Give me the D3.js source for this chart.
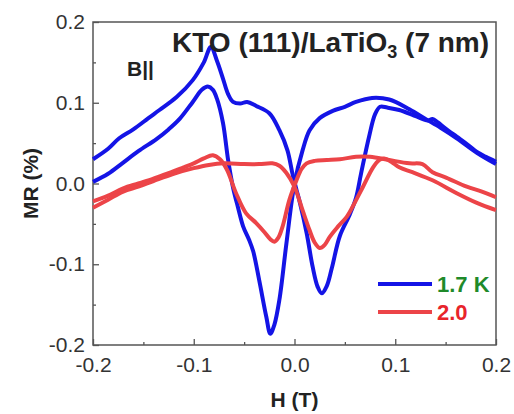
<!DOCTYPE html>
<meta charset="utf-8">
<script src="https://d3js.org/d3.v7.min.js"></script>
<style>
  body { margin: 0; background: #fff; }
  text { font-family: "Liberation Sans", Arial, sans-serif; }
</style>
<div id="vis"></div>
<script type="text/javascript">

// field sweeps, [H (T), MR (%)]
var blue17A = [[-0.2,0.030],[-0.185,0.043],[-0.174,0.056],[-0.16,0.067],[-0.145,0.081],[-0.134,0.091],[-0.117,0.107],[-0.101,0.128],[-0.09,0.150],[-0.083,0.169],[-0.077,0.152],[-0.071,0.130],[-0.066,0.111],[-0.061,0.101],[-0.054,0.099],[-0.047,0.101],[-0.038,0.096],[-0.025,0.087],[-0.015,0.066],[-0.007,0.041],[-0.002,0.012],[0.002,-0.008],[0.005,-0.022],[0.012,-0.061],[0.018,-0.103],[0.023,-0.128],[0.027,-0.136],[0.032,-0.127],[0.037,-0.105],[0.045,-0.065],[0.055,-0.038],[0.061,-0.018],[0.066,0.012],[0.074,0.058],[0.080,0.086],[0.085,0.095],[0.092,0.094],[0.104,0.091],[0.121,0.083],[0.132,0.078],[0.137,0.080],[0.142,0.076],[0.15,0.068],[0.161,0.058],[0.172,0.048],[0.181,0.039],[0.19,0.033],[0.2,0.027]];

var blue17B = [[-0.2,0.002],[-0.185,0.012],[-0.171,0.025],[-0.155,0.040],[-0.137,0.055],[-0.125,0.067],[-0.114,0.080],[-0.101,0.101],[-0.092,0.116],[-0.086,0.120],[-0.081,0.116],[-0.077,0.105],[-0.071,0.075],[-0.066,0.030],[-0.061,-0.005],[-0.056,-0.030],[-0.051,-0.053],[-0.045,-0.070],[-0.041,-0.084],[-0.035,-0.120],[-0.028,-0.165],[-0.024,-0.186],[-0.020,-0.175],[-0.015,-0.144],[-0.008,-0.074],[0,0.000],[0.008,0.041],[0.015,0.066],[0.025,0.081],[0.038,0.090],[0.05,0.095],[0.061,0.101],[0.077,0.106],[0.094,0.104],[0.114,0.092],[0.13,0.080],[0.145,0.069],[0.161,0.056],[0.181,0.038],[0.2,0.024]];

var red20A = [[-0.2,-0.022],[-0.185,-0.015],[-0.17,-0.006],[-0.155,0.000],[-0.14,0.006],[-0.125,0.013],[-0.11,0.020],[-0.1,0.025],[-0.09,0.031],[-0.081,0.035],[-0.074,0.030],[-0.067,0.017],[-0.058,-0.012],[-0.048,-0.037],[-0.038,-0.049],[-0.03,-0.060],[-0.024,-0.069],[-0.02,-0.072],[-0.016,-0.067],[-0.012,-0.054],[-0.005,-0.020],[0.002,0.004],[0.007,0.018],[0.012,0.025],[0.02,0.028],[0.032,0.029],[0.045,0.030],[0.061,0.033],[0.075,0.033],[0.094,0.029],[0.114,0.025],[0.127,0.024],[0.137,0.014],[0.151,0.007],[0.171,-0.004],[0.186,-0.010],[0.2,-0.017]];

var red20B = [[-0.2,-0.030],[-0.185,-0.020],[-0.17,-0.010],[-0.155,-0.004],[-0.14,0.003],[-0.12,0.012],[-0.1,0.019],[-0.085,0.023],[-0.07,0.025],[-0.05,0.024],[-0.035,0.024],[-0.022,0.025],[-0.015,0.022],[-0.008,0.013],[0,-0.004],[0.008,-0.033],[0.015,-0.058],[0.020,-0.073],[0.025,-0.080],[0.030,-0.076],[0.035,-0.066],[0.042,-0.055],[0.052,-0.041],[0.058,-0.028],[0.068,-0.004],[0.078,0.020],[0.084,0.029],[0.089,0.031],[0.096,0.027],[0.104,0.020],[0.117,0.014],[0.137,0.004],[0.161,-0.012],[0.181,-0.024],[0.2,-0.033]];

var xTicks = [-0.2, -0.1, 0.0, 0.1, 0.2];
var yTicks = [-0.2, -0.1, 0.0, 0.1, 0.2];
var legendLabels = ["1.7 K", "2.0"];

var margin = {top: 22, right: 18, bottom: 69, left: 93},
    width = 514 - margin.left - margin.right,
    height = 414 - margin.top - margin.bottom;

var root = d3.select("#vis")
  .append("svg")
    .attr("width", 514)
    .attr("height", 414);

var svg = root.append("g")
    .attr("transform", "translate(" + margin.left + "," + margin.top + ")");

var x = d3.scaleLinear().domain([-0.2, 0.2]).range([0, width]);
var y = d3.scaleLinear().domain([-0.2, 0.2]).range([height, 0]);

var axisColor = "#555";
var fmt = d => d.toFixed(1);

// minor ticks (inward)
var minor = [-0.15, -0.05, 0.05, 0.15];

svg.append("g")
  .attr("transform", "translate(0," + height + ")")
  .call(d3.axisBottom(x).tickValues(minor).tickSize(-3).tickFormat(""))
  .call(g => g.select(".domain").remove())
  .call(g => g.selectAll("line").attr("stroke", axisColor).attr("stroke-width", 1.3));

svg.append("g")
  .call(d3.axisLeft(y).tickValues(minor).tickSize(-3).tickFormat(""))
  .call(g => g.select(".domain").remove())
  .call(g => g.selectAll("line").attr("stroke", axisColor).attr("stroke-width", 1.3));

// major ticks
svg.append("g")
  .attr("transform", "translate(0," + height + ")")
  .call(d3.axisBottom(x).tickValues(xTicks).tickSize(-6).tickPadding(12).tickFormat(fmt))
  .call(g => g.select(".domain").remove())
  .call(g => g.selectAll("line").attr("stroke", axisColor).attr("stroke-width", 1.3))
  .call(g => g.selectAll("text")
      .attr("font-size", 21).attr("fill", "#333")
      .attr("font-family", "Liberation Sans, Arial, sans-serif"));

svg.append("g")
  .call(d3.axisLeft(y).tickValues(yTicks).tickSize(-6).tickPadding(8).tickFormat(fmt))
  .call(g => g.select(".domain").remove())
  .call(g => g.selectAll("line").attr("stroke", axisColor).attr("stroke-width", 1.3))
  .call(g => g.selectAll("text")
      .attr("font-size", 21).attr("fill", "#333")
      .attr("font-family", "Liberation Sans, Arial, sans-serif"));

// frame
svg.append("rect")
  .attr("width", width)
  .attr("height", height)
  .attr("fill", "none")
  .attr("stroke", axisColor)
  .attr("stroke-width", 1.5);

var line = d3.line()
  .x(d => x(d[0]))
  .y(d => y(d[1]))
  .curve(d3.curveCatmullRom.alpha(0.5));

var blue = "#1414e6", red = "#ec4448";

[blue17A, blue17B].forEach(s => {
  svg.append("path").datum(s)
    .attr("fill", "none").attr("stroke", blue).attr("stroke-width", 4)
    .attr("stroke-linejoin", "round")
    .attr("d", line);
});

[red20A, red20B].forEach(s => {
  svg.append("path").datum(s)
    .attr("fill", "none").attr("stroke", red).attr("stroke-width", 4)
    .attr("stroke-linejoin", "round")
    .attr("d", line);
});

// labels
svg.append("text")
  .attr("x", width / 2)
  .attr("y", height + 62)
  .attr("text-anchor", "middle")
  .attr("font-size", 21).attr("font-weight", "bold").attr("fill", "#222")
  .text("H (T)");

svg.append("text")
  .attr("transform", "translate(" + (38 - margin.left) + "," + (height / 2) + ") rotate(-90)")
  .attr("text-anchor", "middle")
  .attr("font-size", 21).attr("font-weight", "bold").attr("fill", "#222")
  .text("MR (%)");

var title = svg.append("text")
  .attr("x", 172 - margin.left)
  .attr("y", 52 - margin.top)
  .attr("font-size", 28).attr("font-weight", "bold").attr("fill", "#222");
title.append("tspan").text("KTO (111)/LaTiO");
title.append("tspan").attr("font-size", 18).attr("dy", 6).text("3");
title.append("tspan").attr("dy", -6).text(" (7 nm)");

svg.append("text")
  .attr("x", 127 - margin.left)
  .attr("y", 76 - margin.top)
  .attr("font-size", 21).attr("font-weight", "bold").attr("fill", "#222")
  .text("B||");

// legend
var legColors = [blue, red];
var legText = ["#1f8a2a", "#e8242a"];
legendLabels.forEach((lab, i) => {
  var ly = 284 + i * 28 - margin.top;
  svg.append("line")
    .attr("x1", 378 - margin.left).attr("x2", 432 - margin.left)
    .attr("y1", ly).attr("y2", ly)
    .attr("stroke", legColors[i]).attr("stroke-width", 4);
  svg.append("text")
    .attr("x", 437 - margin.left).attr("y", ly + 8)
    .attr("font-size", 22).attr("font-weight", "bold").attr("fill", legText[i])
    .text(lab);
});

</script>
